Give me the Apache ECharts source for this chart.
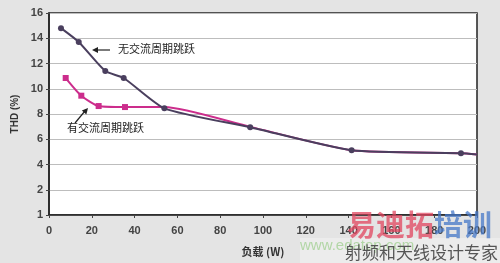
<!DOCTYPE html>
<html><head><meta charset="utf-8">
<script src="https://cdn.jsdelivr.net/npm/echarts@6/dist/echarts.min.js"></script>
<style>html,body{margin:0;padding:0;background:#e4e4e4}#c{width:500px;height:263px}</style>
</head><body><div id="c"></div>
<script>
// Data
const noAcLoad = [5.6, 13.9, 26.3, 34.9, 53.9, 94, 141.4, 192.5, 200];
const noAcThd  = [14.8, 13.7, 11.4, 10.85, 8.45, 6.95, 5.13, 4.9, 4.8];
const acLoad   = [7.8, 15.1, 23.2, 35.5, 54, 94, 141.4, 192.5, 200];
const acThd    = [10.85, 9.45, 8.63, 8.55, 8.55, 6.98, 5.13, 4.9, 4.8];
const acMarked = [true, true, true, true, false, false, false, false, false];
const noAcMarked = [true, true, true, true, true, true, true, true, false];
const yTicks = [0, 2, 4, 6, 8, 10, 12, 14, 16];
const yTickLabels = ['1', '2', '4', '6', '8', '10', '12', '14', '16'];
const xTicks = [0, 20, 40, 60, 80, 100, 120, 140, 160, 180, 200];
const seriesNames = ['无交流周期跳跃', '有交流周期跳跃'];

const chart = echarts.init(document.getElementById('c'));
const lbl = {color:'#444', fontFamily:'Liberation Sans, Arial', fontWeight:'bold', fontSize:11};
function arrowHead(x1,y1,x2,y2,color){
  const a=Math.atan2(y2-y1,x2-x1), L=6, W=3;
  const bx=x2-L*Math.cos(a), by=y2-L*Math.sin(a);
  return {type:'polygon', shape:{points:[[x2,y2],[bx+W*Math.sin(a),by-W*Math.cos(a)],[bx-W*Math.sin(a),by+W*Math.cos(a)]]}, style:{fill:color}, z:10};
}
chart.setOption({
  backgroundColor:'#e4e4e4',
  animation:false,
  grid:{left:49, right:23, top:13, bottom:48, show:true, backgroundColor:'#ffffff', borderColor:'#222', borderWidth:1.5},
  xAxis:{type:'value', min:0, max:200, interval:20,
    axisLine:{show:true, onZero:false, lineStyle:{color:'#222', width:1.5}},
    axisTick:{show:true, length:3, lineStyle:{color:'#444'}},
    splitLine:{show:false},
    axisLabel:Object.assign({margin:10, formatter:v=>xTicks.includes(v)?String(v):''}, lbl),
    name:'负载 (W)', nameLocation:'middle', nameGap:31,
    nameTextStyle:{color:'#333', fontFamily:'Noto Sans CJK SC', fontSize:11, fontWeight:'bold'}
  },
  yAxis:{type:'value', min:0, max:16, interval:2,
    axisLine:{show:true, lineStyle:{color:'#222', width:1.5}},
    axisTick:{show:true, length:3, lineStyle:{color:'#444'}},
    splitLine:{show:true, lineStyle:{color:'#bdbdbd', width:1}},
    axisLabel:Object.assign({margin:6, formatter:v=>{const i=yTicks.indexOf(v);return i>=0?yTickLabels[i]:'';}}, lbl),
    name:'THD (%)', nameLocation:'middle', nameGap:28, nameRotate:90,
    nameTextStyle:{color:'#333', fontFamily:'Liberation Sans, Arial', fontSize:10, fontWeight:'bold'}
  },
  series:[
    {name:seriesNames[1], type:'line', smooth:0.2, z:2,
      data:acLoad.map((x,i)=>({value:[x,acThd[i]], symbol:acMarked[i]?'rect':'none'})),
      symbolSize:6, lineStyle:{color:'#cc2d8c', width:2}, itemStyle:{color:'#cc2d8c'}},
    {name:seriesNames[0], type:'line', smooth:0.2, z:3,
      data:noAcLoad.map((x,i)=>({value:[x,noAcThd[i]], symbol:noAcMarked[i]?'circle':'none'})),
      symbolSize:6, lineStyle:{color:'#4a3f5e', width:2}, itemStyle:{color:'#4a3f5e'}}
  ],
  graphic:[
    {type:'line', shape:{x1:110,y1:50,x2:95,y2:50}, style:{stroke:'#222', lineWidth:1.2}, z:10},
    arrowHead(110,50,92,50,'#222'),
    {type:'text', left:118, top:43, style:{text:seriesNames[0], fill:'#222', font:'11px "Noto Sans CJK SC"'}, z:10},
    {type:'line', shape:{x1:75,y1:123,x2:85,y2:111}, style:{stroke:'#222', lineWidth:1.2}, z:10},
    arrowHead(75,123,88,108,'#222'),
    {type:'text', left:67, top:122, style:{text:seriesNames[1], fill:'#222', font:'11px "Noto Sans CJK SC"'}, z:10},
    {type:'rect', shape:{x:300,y:238,width:200,height:25}, style:{fill:'#ececec'}, z:5},
    {type:'text', left:347, top:210, style:{text:'易迪拓', fill:'rgba(225,70,95,0.75)', font:'bold 29px "Noto Sans CJK SC"'}, z:11},
    {type:'text', left:434, top:210, style:{text:'培训', fill:'rgba(70,120,200,0.75)', font:'bold 29px "Noto Sans CJK SC"'}, z:11},
    {type:'text', left:300, top:238, style:{text:'www.edatop.com', fill:'rgba(140,200,120,0.6)', font:'15px "Liberation Sans"'}, z:11},
    {type:'text', left:345, top:244, style:{text:'射频和天线设计专家', fill:'#555', font:'17px "Noto Sans CJK SC"'}, z:12}
  ]
});
</script></body></html>
